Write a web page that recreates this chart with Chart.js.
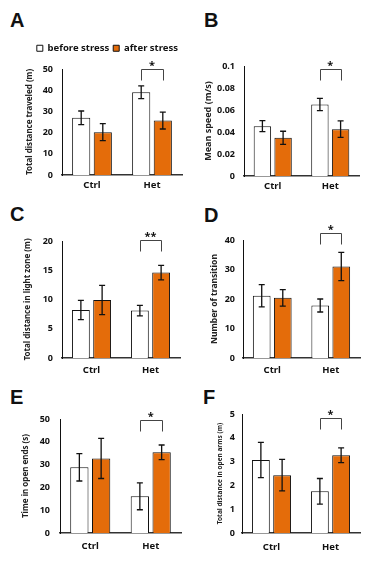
<!DOCTYPE html>
<html><head><meta charset="utf-8">
<script src="https://cdn.jsdelivr.net/npm/chart.js@4.4.1/dist/chart.umd.min.js"></script>
<style>
html,body{margin:0;padding:0;background:#fff;}
body{width:374px;height:561px;position:relative;overflow:hidden;}
.pl{position:absolute;font:bold 20px "Liberation Sans",Arial,sans-serif;color:#111;line-height:20px;}
canvas{position:absolute;}
</style></head><body>
<div class="pl" style="left:10px;top:10px">A</div>
<div class="pl" style="left:204px;top:10px">B</div>
<div class="pl" style="left:10px;top:204px">C</div>
<div class="pl" style="left:204px;top:205px">D</div>
<div class="pl" style="left:10px;top:387px">E</div>
<div class="pl" style="left:203px;top:387px">F</div>
<canvas id="cA" width="187" height="192" style="left:0;top:0"></canvas>
<canvas id="cB" width="187" height="192" style="left:187px;top:0"></canvas>
<canvas id="cC" width="187" height="183" style="left:0;top:192px"></canvas>
<canvas id="cD" width="187" height="183" style="left:187px;top:192px"></canvas>
<canvas id="cE" width="187" height="186" style="left:0;top:375px"></canvas>
<canvas id="cF" width="187" height="186" style="left:187px;top:375px"></canvas>
<script>
// ---- data ----
const categories = ['Ctrl', 'Het'];
const seriesNames = ['before stress', 'after stress'];

const travelBefore = [27.0, 39.0];
const travelBeforeErr = [3.2, 3.0];
const travelAfter = [20.2, 25.7];
const travelAfterErr = [4.0, 4.0];
const travelTicks = ['0', '10', '20', '30', '40', '50'];

const speedBefore = [0.0453, 0.065];
const speedBeforeErr = [0.005, 0.0055];
const speedAfter = [0.0347, 0.0426];
const speedAfterErr = [0.006, 0.0075];
const speedTicks = ['0', '0.02', '0.04', '0.06', '0.08', '0.1'];

const lightBefore = [8.2, 8.1];
const lightBeforeErr = [1.65, 0.9];
const lightAfter = [9.9, 14.6];
const lightAfterErr = [2.5, 1.25];
const lightTicks = ['0', '5', '10', '15', '20'];

const transBefore = [21.1, 17.8];
const transBeforeErr = [3.8, 2.2];
const transAfter = [20.4, 31.0];
const transAfterErr = [2.8, 4.8];
const transTicks = ['0', '10', '20', '30', '40'];

const openEndsBefore = [28.8, 16.1];
const openEndsBeforeErr = [6.0, 5.9];
const openEndsAfter = [32.7, 35.4];
const openEndsAfterErr = [8.8, 3.2];
const openEndsTicks = ['0', '10', '20', '30', '40', '50'];

const openArmsBefore = [3.07, 1.75];
const openArmsBeforeErr = [0.74, 0.54];
const openArmsAfter = [2.43, 3.27];
const openArmsAfterErr = [0.66, 0.31];
const openArmsTicks = ['0', '1', '2', '3', '4', '5'];

const sigTopValues = [50.2, 0.0976, 20.1, 42.5, 49.7, 4.82];
const sigLabels = ['*', '*', '**', '*', '*', '*'];

// ---- styles ----
const FONT = '"Noto Sans", "Open Sans", sans-serif';
const ORANGE = '#E46C0A';
const INK = '#111111';

const errorBarsPlugin = {
  id: 'errorBars',
  afterDatasetsDraw(chart) {
    const ctx = chart.ctx, y = chart.scales.y;
    chart.data.datasets.forEach((ds, i) => {
      const meta = chart.getDatasetMeta(i);
      meta.data.forEach((bar, j) => {
        const v = ds.data[j], e = ds.errors[j];
        const yt = y.getPixelForValue(v + e), yb = y.getPixelForValue(v - e);
        ctx.save();
        ctx.strokeStyle = INK; ctx.lineWidth = 1.3;
        ctx.beginPath();
        ctx.moveTo(bar.x, yt); ctx.lineTo(bar.x, yb);
        ctx.moveTo(bar.x - 3, yt); ctx.lineTo(bar.x + 3, yt);
        ctx.moveTo(bar.x - 3, yb); ctx.lineTo(bar.x + 3, yb);
        ctx.stroke();
        ctx.restore();
      });
    });
  }
};

const sigPlugin = {
  id: 'sigBracket',
  afterDraw(chart, args, opts) {
    if (opts.top == null) return;
    const ctx = chart.ctx, y = chart.scales.y;
    const x1 = chart.getDatasetMeta(0).data[opts.index].x;
    const x2 = chart.getDatasetMeta(1).data[opts.index].x;
    const yt = Math.round(y.getPixelForValue(opts.top)) + 0.5;
    ctx.save();
    ctx.strokeStyle = '#444'; ctx.lineWidth = 1;
    ctx.beginPath();
    ctx.moveTo(Math.round(x1) + 0.5, yt + opts.leg);
    ctx.lineTo(Math.round(x1) + 0.5, yt);
    ctx.lineTo(Math.round(x2) + 0.5, yt);
    ctx.lineTo(Math.round(x2) + 0.5, yt + opts.leg);
    ctx.stroke();
    ctx.fillStyle = INK;
    ctx.font = 'bold 11px ' + FONT;
    ctx.textAlign = 'center';
    ctx.textBaseline = 'alphabetic';
    ctx.fillText(opts.text, (x1 + x2) / 2, yt - 1);
    ctx.restore();
  }
};

function makeChart(id, p) {
  const tickFont = {family: FONT, size: 9, weight: 'bold'};
  const catFont = {family: FONT, size: 9.5, weight: 'bold'};
  return new Chart(document.getElementById(id), {
    type: 'bar',
    data: {
      labels: categories,
      datasets: [
        {label: seriesNames[0], data: p.before, errors: p.beforeErr, backgroundColor: '#ffffff',
         borderColor: INK, borderWidth: 1, categoryPercentage: 0.72, barPercentage: 0.84},
        {label: seriesNames[1], data: p.after, errors: p.afterErr, backgroundColor: ORANGE,
         borderColor: INK, borderWidth: 1, categoryPercentage: 0.72, barPercentage: 0.84}
      ]
    },
    options: {
      responsive: false, animation: false, devicePixelRatio: 1,
      layout: {padding: {top: p.padTop, right: p.padRight, bottom: 0, left: 0}},
      plugins: {
        legend: {
          display: !!p.legend, position: 'top', align: 'end',
          labels: {boxWidth: 6, boxHeight: 6, padding: 4, color: INK,
                   font: {family: FONT, size: 9.5, weight: 'bold'}}
        },
        // spacer between legend and plot area (panel A only)
        subtitle: {display: !!p.legend, text: '', position: 'top', weight: 500,
                   padding: 0, font: {size: 5}},
        tooltip: {enabled: false},
        sigBracket: {top: p.sigTop, text: p.sigText, index: 1, leg: 11}
      },
      scales: {
        x: {
          grid: {display: false, drawTicks: false},
          border: {display: true, color: '#333', width: 1.5},
          ticks: {padding: p.xPad, color: INK, font: catFont},
          afterFit: s => { s.height = p.xH; }
        },
        y: {
          min: 0, max: p.max,
          grid: {display: false, drawTicks: false},
          border: {display: true, color: INK, width: 1},
          ticks: {stepSize: p.step, padding: p.yPad, color: INK, font: tickFont,
                  callback: (v, i) => (p.ticks[i] !== undefined ? p.ticks[i] : v)},
          title: {display: true, text: p.title, color: '#222',
                  font: {family: FONT, size: p.titleSize, weight: 'bold'},
                  padding: {top: p.titlePad, bottom: 0}},
          afterFit: s => { s.width = p.yW; if (p.plotTop) s.paddingTop = p.plotTop; }
        }
      }
    },
    plugins: [errorBarsPlugin, sigPlugin]
  });
}

makeChart('cA', {before: travelBefore, beforeErr: travelBeforeErr, after: travelAfter, afterErr: travelAfterErr,
  max: 50, step: 10, ticks: travelTicks, title: 'Total distance traveled (m)', titleSize: 8, titlePad: 25,
  legend: true, padTop: 30, plotTop: 69, padRight: 5, yW: 62, yPad: 9, xH: 17, xPad: 5,
  sigTop: sigTopValues[0], sigText: sigLabels[0]});
makeChart('cB', {before: speedBefore, beforeErr: speedBeforeErr, after: speedAfter, afterErr: speedAfterErr,
  max: 0.1, step: 0.02, ticks: speedTicks, title: 'Mean speed (m/s)', titleSize: 9, titlePad: 15.6,
  padTop: 66, padRight: 15, yW: 57, yPad: 9, xH: 16, xPad: 5,
  sigTop: sigTopValues[1], sigText: sigLabels[1]});
makeChart('cC', {before: lightBefore, beforeErr: lightBeforeErr, after: lightAfter, afterErr: lightAfterErr,
  max: 20, step: 5, ticks: lightTicks, title: 'Total distance in light zone (m)', titleSize: 8, titlePad: 23,
  padTop: 49, padRight: 7, yW: 62, yPad: 9, xH: 17, xPad: 7,
  sigTop: sigTopValues[2], sigText: sigLabels[2]});
makeChart('cD', {before: transBefore, beforeErr: transBeforeErr, after: transAfter, afterErr: transAfterErr,
  max: 40, step: 10, ticks: transTicks, title: 'Number of transition', titleSize: 8.5, titlePad: 22,
  padTop: 48, padRight: 14, yW: 56, yPad: 8, xH: 17, xPad: 7,
  sigTop: sigTopValues[3], sigText: sigLabels[3]});
makeChart('cE', {before: openEndsBefore, beforeErr: openEndsBeforeErr, after: openEndsAfter, afterErr: openEndsAfterErr,
  max: 50, step: 10, ticks: openEndsTicks, title: 'Time in open ends (s)', titleSize: 8, titlePad: 21,
  padTop: 44, padRight: 6, yW: 60, yPad: 10, xH: 28, xPad: 8,
  sigTop: sigTopValues[4], sigText: sigLabels[4]});
makeChart('cF', {before: openArmsBefore, beforeErr: openArmsBeforeErr, after: openArmsAfter, afterErr: openArmsAfterErr,
  max: 5, step: 1, ticks: openArmsTicks, title: 'Total distance in open arms (m)', titleSize: 6.5, titlePad: 29,
  padTop: 39, padRight: 14, yW: 55, yPad: 7, xH: 28, xPad: 9,
  sigTop: sigTopValues[5], sigText: sigLabels[5]});
</script>
</body></html>
